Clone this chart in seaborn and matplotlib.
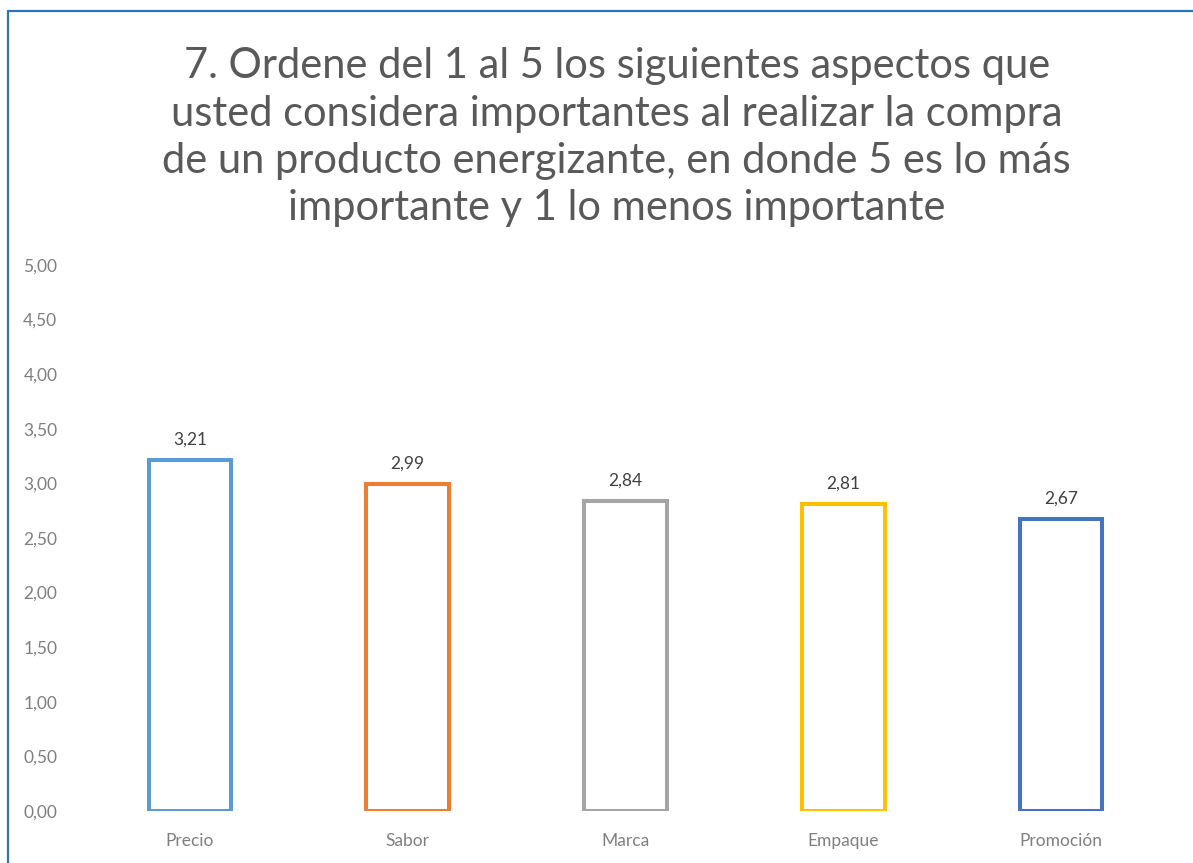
import matplotlib
matplotlib.use("Agg")
import matplotlib.pyplot as plt
import pandas as pd
import seaborn as sns
from matplotlib.lines import Line2D

# datos de la pregunta 7
aspectos = ["Precio", "Sabor", "Marca", "Empaque", "Promoción"]
promedios = [3.21, 2.99, 2.84, 2.81, 2.67]
colores = ["#5B9BD5", "#ED7D31", "#A5A5A5", "#FFC000", "#4472C4"]
ticks_y = [0, 0.5, 1, 1.5, 2, 2.5, 3, 3.5, 4, 4.5, 5]

titulo = ("7. Ordene del 1 al 5 los siguientes aspectos que\n"
          "usted considera importantes al realizar la compra\n"
          "de un producto energizante, en donde 5 es lo más\n"
          "importante y 1 lo menos importante")

sns.set_theme(style="white")
plt.rcParams["font.family"] = ["Lato", "DejaVu Sans"]


def coma(v: float) -> str:
    return f"{v:.2f}".replace(".", ",")


df = pd.DataFrame({"aspecto": aspectos, "promedio": promedios})

fig = plt.figure(figsize=(11.93, 8.63), dpi=100)
ax = fig.add_axes([0.0679, 0.0603, 0.9128, 0.6326])

sns.barplot(data=df, x="aspecto", y="promedio", ax=ax, width=0.38,
            fill=False, hue="aspecto", palette=colores, legend=False)
for barra, c in zip(ax.patches, colores):
    barra.set_edgecolor(c)
    barra.set_linewidth(2.9)
    barra.set_facecolor("none")

for i, v in enumerate(promedios):
    ax.annotate(coma(v), (i, v), xytext=(0, 9), textcoords="offset points",
                ha="center", va="bottom", fontsize=12.5, color="#404040")

ax.set_ylim(0, 5)
ax.set_xlim(-0.5, len(aspectos) - 0.5)
ax.set_yticks(ticks_y)
ax.set_yticklabels([coma(t) for t in ticks_y], fontsize=12.5, color="#7f7f7f")
ax.tick_params(axis="x", labelsize=12.5, labelcolor="#7f7f7f", pad=16, length=0)
ax.tick_params(axis="y", pad=17, length=0)
ax.set_xlabel("")
ax.set_ylabel("")
sns.despine(ax=ax, left=True, bottom=True)

fig.text(0.517, 0.841, titulo, ha="center", va="center", fontsize=30,
         color="#595959", linespacing=1.3)

# marco azul del gráfico (solo se ven el borde izquierdo y el superior)
fig.add_artist(Line2D([0.0063, 0.0063], [0, 0.987], transform=fig.transFigure,
                      color="#2E75B6", linewidth=1.6))
fig.add_artist(Line2D([0.0063, 1.0], [0.987, 0.987], transform=fig.transFigure,
                      color="#2E75B6", linewidth=1.6))

fig.savefig("out.png", dpi=100)
